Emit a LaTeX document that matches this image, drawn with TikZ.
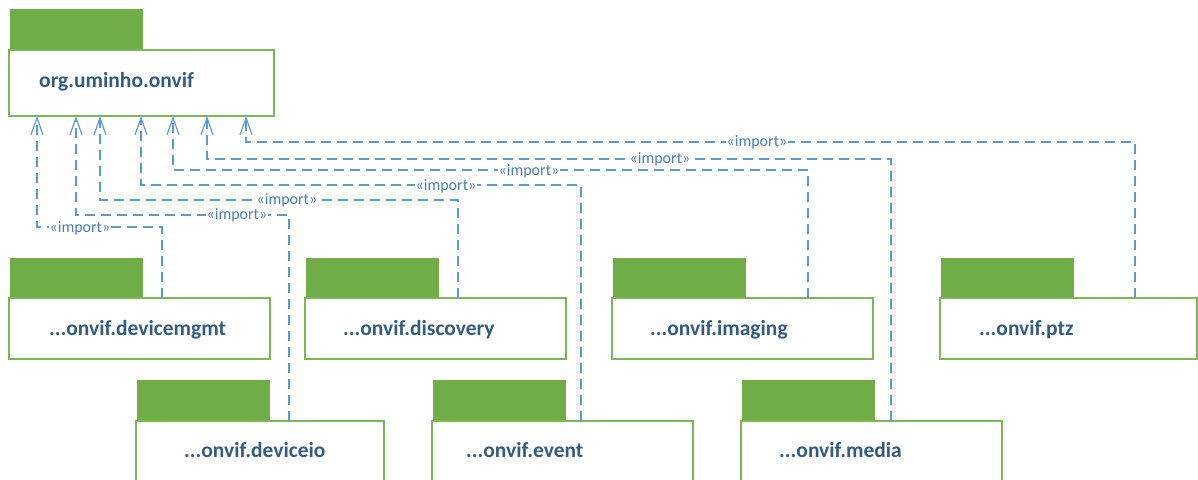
\documentclass[tikz,border=0pt]{standalone}
\usepackage{fontspec}
\setmainfont{Carlito}
\usetikzlibrary{arrows.meta}
\definecolor{pkggreen}{HTML}{70AD47}
\definecolor{boxgreen}{HTML}{7DB757}
\definecolor{depblue}{HTML}{5B9BD5}
\definecolor{lblblue}{HTML}{4C7EB6}
\definecolor{txtblue}{HTML}{335C85}
\begin{document}
\begin{tikzpicture}[x=1pt,y=-1pt,
  tab/.style={fill=pkggreen, draw=pkggreen, line width=0.8pt, minimum width=132pt, minimum height=40pt, anchor=north west, inner sep=0pt, outer sep=0pt},
  pbox/.style={fill=white, draw=boxgreen, line width=1.5pt, anchor=north west, inner sep=0pt, outer sep=0pt},
  pname/.style={font=\bfseries\fontsize{21.5}{24}\selectfont, text=txtblue, anchor=base west, inner sep=0pt},
  lbl/.style={font=\fontsize{16}{18}\selectfont, text=lblblue, fill=white, inner sep=0.5pt},
  dep/.style={draw=depblue, line width=1.2pt, dash pattern=on 10pt off 6pt, -{Straight Barb[length=17pt,width=12pt,line width=1.2pt]}}]
\useasboundingbox (0,0) rectangle (1198,479);
\clip (0,0) rectangle (1198,479);

% root package
\node[tab] (roottab) at (10,9) {};
\node[pbox, minimum width=265pt, minimum height=66pt] (root) at (9,50) {};
\node[pname] (rootname) at (39,87) {org.uminho.onvif};

% first row
\node[tab] (dmtab) at (10,258) {};
\node[pbox, minimum width=261pt, minimum height=61pt] (dm) at (9,298) {};
\node[pname] (dmname) at (49,335) {...onvif.devicemgmt};

\node[tab] (disctab) at (306,258) {};
\node[pbox, minimum width=261pt, minimum height=61pt] (disc) at (305,298) {};
\node[pname] (discname) at (343,335) {...onvif.discovery};

\node[tab] (imgtab) at (613,258) {};
\node[pbox, minimum width=261pt, minimum height=61pt] (img) at (612,298) {};
\node[pname] (imgname) at (650,335) {...onvif.imaging};

\node[tab] (ptztab) at (941,258) {};
\node[pbox, minimum width=257pt, minimum height=61pt] (ptz) at (940,298) {};
\node[pname] (ptzname) at (979,335) {...onvif.ptz};

% second row
\node[tab] (diotab) at (137,380) {};
\node[pbox, minimum width=248pt, minimum height=80pt] (dio) at (136,421) {};
\node[pname] (dioname) at (184,457) {...onvif.deviceio};

\node[tab] (evttab) at (433,380) {};
\node[pbox, minimum width=261pt, minimum height=80pt] (evt) at (432,421) {};
\node[pname] (evtname) at (466,457) {...onvif.event};

\node[tab] (medtab) at (742,380) {};
\node[pbox, minimum width=261pt, minimum height=80pt] (med) at (741,421) {};
\node[pname] (medname) at (779,457) {...onvif.media};

% arrow targets on root
\coordinate (a1) at ([xshift=28pt]root.south west);
\coordinate (a2) at ([xshift=67pt]root.south west);
\coordinate (a3) at ([xshift=91pt]root.south west);
\coordinate (a4) at ([xshift=132pt]root.south west);
\coordinate (a5) at ([xshift=164pt]root.south west);
\coordinate (a6) at ([xshift=198pt]root.south west);
\coordinate (a7) at ([xshift=237pt]root.south west);
% bends
\coordinate (k1) at (162,227);
\coordinate (k2) at (289,215);
\coordinate (k3) at (458,200);
\coordinate (k4) at (581,185);
\coordinate (k5) at (808,170);
\coordinate (k6) at (891,159);
\coordinate (k7) at (1135,142);

\draw[dep] (dm.north -| k1) -- (k1) -| (a1);
\draw[dep] (dio.north -| k2) -- (k2) -| (a2);
\draw[dep] (disc.north -| k3) -- (k3) -| (a3);
\draw[dep] (evt.north -| k4) -- (k4) -| (a4);
\draw[dep] (img.north -| k5) -- (k5) -| (a5);
\draw[dep] (med.north -| k6) -- (k6) -| (a6);
\draw[dep] (ptz.north -| k7) -- (k7) -| (a7);

\node[lbl] (l1) at (80,228) {«import»};
\node[lbl] (l2) at (237,215) {«import»};
\node[lbl] (l3) at (287,200) {«import»};
\node[lbl] (l4) at (446,186) {«import»};
\node[lbl] (l5) at (529,171) {«import»};
\node[lbl] (l6) at (660,159) {«import»};
\node[lbl] (l7) at (757,142) {«import»};
\end{tikzpicture}
\end{document}
